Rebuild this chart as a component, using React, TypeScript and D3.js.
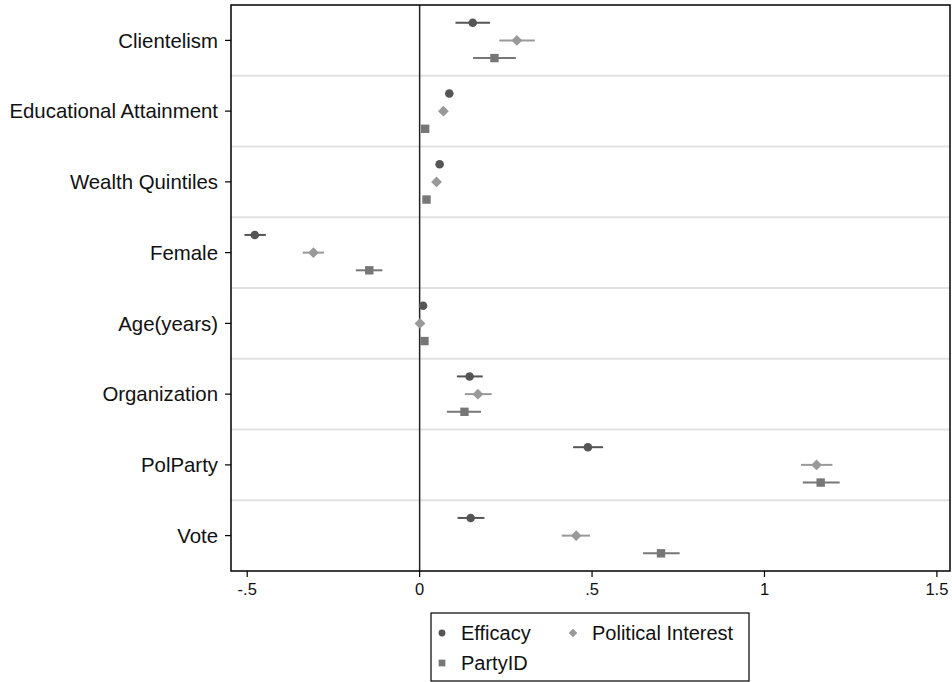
import React from 'react';
import * as d3 from 'd3';

const categories = [
  'Clientelism',
  'Educational Attainment',
  'Wealth Quintiles',
  'Female',
  'Age(years)',
  'Organization',
  'PolParty',
  'Vote',
];

// point estimates and 95% CIs
const efficacy = [0.154, 0.086, 0.058, -0.478, 0.010, 0.145, 0.488, 0.148];
const efficacyLo = [0.104, 0.078, 0.051, -0.508, 0.006, 0.108, 0.445, 0.110];
const efficacyHi = [0.204, 0.094, 0.065, -0.446, 0.014, 0.183, 0.532, 0.188];

const interest = [0.282, 0.069, 0.049, -0.308, 0.001, 0.169, 1.151, 0.454];
const interestLo = [0.231, 0.062, 0.042, -0.339, -0.003, 0.131, 1.106, 0.412];
const interestHi = [0.334, 0.076, 0.056, -0.277, 0.005, 0.209, 1.197, 0.494];

const partyId = [0.217, 0.016, 0.020, -0.146, 0.014, 0.130, 1.163, 0.700];
const partyIdLo = [0.155, 0.008, 0.010, -0.185, 0.010, 0.079, 1.111, 0.648];
const partyIdHi = [0.279, 0.024, 0.030, -0.108, 0.018, 0.178, 1.218, 0.754];

const xTicks = [-0.5, 0, 0.5, 1, 1.5];
const xTickLabels = ['-.5', '0', '.5', '1', '1.5'];

const seriesNames = ['Efficacy', 'Political Interest', 'PartyID'];

const FONT = '"Liberation Sans", Arial, Helvetica, sans-serif';

const series = [
  { name: seriesNames[0], est: efficacy, lo: efficacyLo, hi: efficacyHi, color: '#555555', shape: 'circle', offset: -1 },
  { name: seriesNames[1], est: interest, lo: interestLo, hi: interestHi, color: '#999999', shape: 'diamond', offset: 0 },
  { name: seriesNames[2], est: partyId, lo: partyIdLo, hi: partyIdHi, color: '#777777', shape: 'square', offset: 1 },
];

function Marker({ shape, x, y, color, s = 1 }: { shape: string; x: number; y: number; color: string; s?: number }) {
  if (shape === 'circle') return <circle cx={x} cy={y} r={4.3 * s} fill={color} />;
  if (shape === 'diamond') {
    const r = 5.4 * s;
    return <path d={`M${x},${y - r}L${x + r},${y}L${x},${y + r}L${x - r},${y}Z`} fill={color} />;
  }
  const h = 4.2 * s;
  return <rect x={x - h} y={y - h} width={2 * h} height={2 * h} fill={color} />;
}

export default function App() {
  const width = 952;
  const height = 682;
  const plot = { left: 231, right: 950, top: 5, bottom: 571 };

  const x = d3.scaleLinear().domain([-0.547, 1.538]).range([plot.left, plot.right]);
  const y = d3.scaleBand().domain(categories).range([plot.top, plot.bottom]);
  const step = y.step();
  const off = step * 0.25;

  const legend = { x: 431, y: 613, w: 318, h: 68 };

  return (
    <svg width={width} height={height} style={{ position: 'absolute', left: 0, top: 0, background: '#fff' }} fontFamily={FONT}>
      {/* grid lines between categories */}
      {categories.slice(1).map((c) => (
        <line key={c} x1={plot.left} x2={plot.right} y1={y(c)!} y2={y(c)!} stroke="#e2e2e2" strokeWidth={2.2} />
      ))}

      {/* zero reference line */}
      <line x1={x(0)} x2={x(0)} y1={plot.top} y2={plot.bottom} stroke="#222" strokeWidth={1.5} />

      {/* CIs and markers */}
      {series.map((s) =>
        categories.map((c, i) => {
          const cy = y(c)! + step / 2 + s.offset * off;
          return (
            <g key={s.name + c}>
              <line x1={x(s.lo[i])} x2={x(s.hi[i])} y1={cy} y2={cy} stroke={s.color} strokeWidth={2} />
              <Marker shape={s.shape} x={x(s.est[i])} y={cy} color={s.color} />
            </g>
          );
        })
      )}

      {/* frame */}
      <rect x={plot.left} y={plot.top} width={plot.right - plot.left} height={plot.bottom - plot.top} fill="none" stroke="#000" strokeWidth={1.5} />

      {/* y axis ticks and labels */}
      {categories.map((c) => {
        const cy = y(c)! + step / 2;
        return (
          <g key={c}>
            <line x1={plot.left - 6} x2={plot.left} y1={cy} y2={cy} stroke="#000" strokeWidth={1.2} />
            <text x={plot.left - 13} y={cy} dy="0.36em" textAnchor="end" fontSize={20.4} fill="#111">
              {c}
            </text>
          </g>
        );
      })}

      {/* x axis ticks and labels */}
      {xTicks.map((t, i) => (
        <g key={t}>
          <line x1={x(t)} x2={x(t)} y1={plot.bottom} y2={plot.bottom + 6} stroke="#000" strokeWidth={1.2} />
          <text x={x(t)} y={plot.bottom + 24} textAnchor="middle" fontSize={16.5} fill="#111">
            {xTickLabels[i]}
          </text>
        </g>
      ))}

      {/* legend */}
      <rect x={legend.x} y={legend.y} width={legend.w} height={legend.h} fill="#fff" stroke="#000" strokeWidth={1.2} />
      {series.map((s, i) => {
        const col = i === 1 ? 1 : 0;
        const row = i === 2 ? 1 : 0;
        const mx = legend.x + 11 + col * 131;
        const my = legend.y + 20 + row * 30;
        return (
          <g key={s.name}>
            <Marker shape={s.shape} x={mx} y={my} color={s.color} s={0.8} />
            <text x={mx + 19} y={my} dy="0.36em" fontSize={20} fill="#111">
              {s.name}
            </text>
          </g>
        );
      })}
    </svg>
  );
}
